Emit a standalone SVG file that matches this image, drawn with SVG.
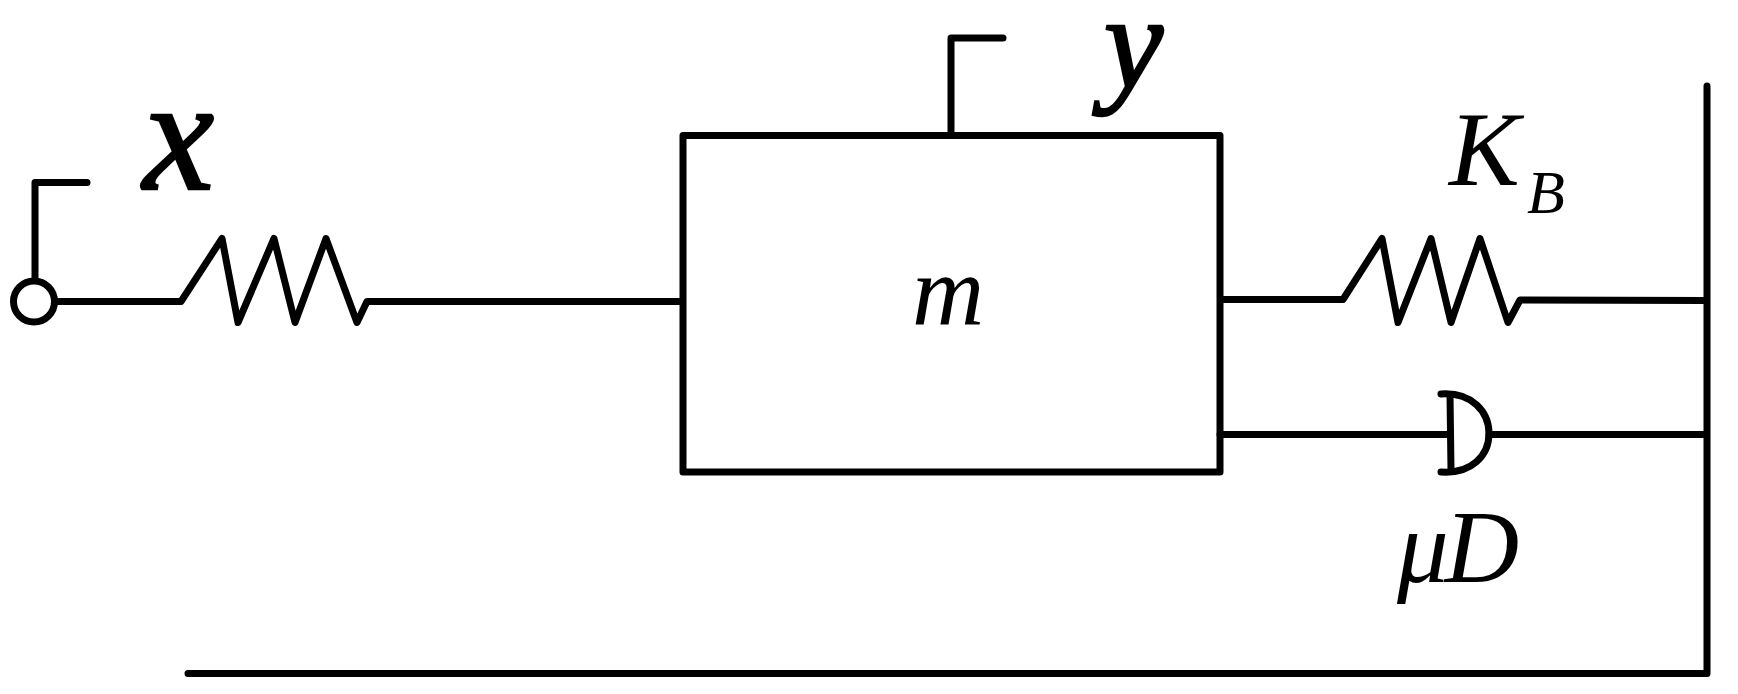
<svg xmlns="http://www.w3.org/2000/svg" width="1738" height="694" viewBox="0 0 1738 694">
<style>
.l{fill:none;stroke:#000;stroke-width:7;stroke-linecap:round;stroke-linejoin:round}
.t{font-family:"Liberation Serif","Times New Roman",serif;font-style:italic;fill:#000}
.h{stroke:#000;stroke-width:2.500}
</style>
<rect width="1738" height="694" fill="#fff"/>
<g id="connectors">
<path class="l" d="M35 277.500V182.500H87"/>
<path class="l" d="M57 301.500H181L222 238.500L238 322.500L274 238.500L295 322.500L326 238.500L357 322.500L367 301.500H679"/>
<path class="l" d="M951 135.500V38H1003"/>
<path class="l" d="M1223 299.500H1343L1382 238.500L1398 322.500L1431 238.500L1451 322.500L1480 238.500L1508 322.500L1520 300L1706 300.500"/>
<path class="l" d="M1220 434.500H1450M1489 434.500H1706"/>
<path class="l" d="M1707 86V673.500H188"/>
</g>
<g id="terminal"><circle class="l" cx="34" cy="301.500" r="20.500"/></g>
<g id="mass"><rect class="l" x="683" y="135.500" width="537" height="336.500"/>
<text class="t" x="912" y="324" font-size="100">m</text></g>
<g id="damper"><path class="l" d="M1441 394C1472 392 1489 412 1489 433.500C1489 455 1472 474 1441 472"/><path class="l" d="M1450 395L1451 470"/></g>
<g id="label-x"><text class="t h" x="143" y="189" font-size="160">x</text></g>
<g id="label-y"><text class="t h" x="1104" y="88" font-size="133">y</text></g>
<g id="label-kb"><text class="t" x="1449" y="185" font-size="106">K</text><text class="t" x="1527" y="213" font-size="62">B</text></g>
<g id="label-mud"><text class="t" x="1397" y="582" font-size="103" letter-spacing="-4">μD</text></g>
</svg>
